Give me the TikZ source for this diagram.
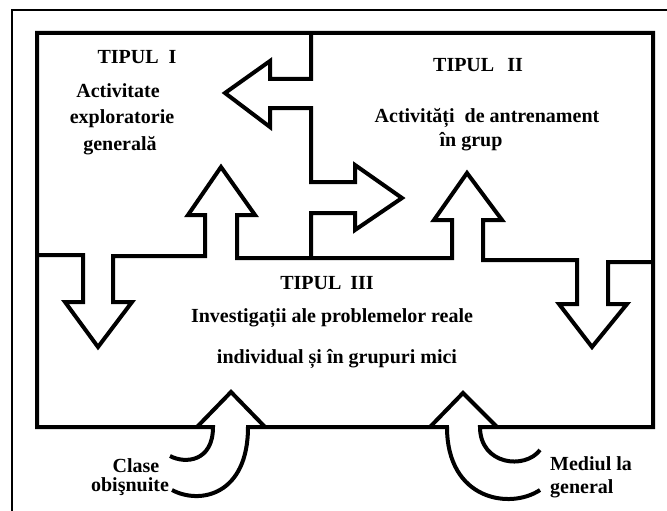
\documentclass[tikz,border=0pt]{standalone}
\usepackage{fontspec}
\setmainfont{Liberation Serif}
\begin{document}
\begin{tikzpicture}[x=1pt,y=-1pt,
  wall/.style={line width=4pt, line join=miter},
  border/.style={line width=2pt},
  lbl/.style={font=\fontsize{20}{24}\selectfont\bfseries, inner sep=0pt, anchor=base},
  lblL/.style={lbl, anchor=base west},
]
\useasboundingbox[fill=white] (0,0) rectangle (667,511);

% outer border (open to the right and bottom)
\draw[border] (12,511) -- (12,10) -- (667,10);

% main frame, with the two curved inflow shafts
\draw[wall] (170,456) .. controls (185,464) and (213,462) .. (213,427)
  -- (37,427) -- (37,33) -- (653,33) -- (653,427) -- (480,427)
  .. controls (480,465) and (525,470) .. (540,450);
\draw[wall] (172,490) .. controls (200,505) and (248,495) .. (248,427)
  -- (447,427) .. controls (447,500) and (510,510) .. (540,490);

% heads of the curved inflow arrows
\draw[wall] (197,427) -- (231,392) -- (265,427);
\draw[wall] (430,427) -- (463,393) -- (497,427);

% divider between types I/II and type III, with its block arrows
\draw[wall] (37,255) -- (83,255) -- (83,302) -- (65,302) -- (98,347)
  -- (132,302) -- (113,302) -- (113,256) -- (205,256) -- (205,215)
  -- (188,215) -- (221,167) -- (255,215) -- (237,215) -- (237,258)
  -- (452,258) -- (452,220) -- (434,220) -- (467,173) -- (502,220)
  -- (483,220) -- (483,260) -- (577,260) -- (577,304) -- (559,304)
  -- (592,347) -- (627,304) -- (608,304) -- (608,262) -- (653,262);

% divider between type I and type II, with its block arrows
\draw[wall] (311,33) -- (311,79) -- (270,79) -- (270,61) -- (225,93)
  -- (270,127) -- (270,108) -- (311,108) -- (311,182) -- (355,182)
  -- (355,165) -- (402,198) -- (355,230) -- (355,213) -- (311,213)
  -- (311,258);

% type I
\node[lbl] (t1)  at (137,64)  {TIPUL\hspace{0.5em}I};
\node[lbl] (t1a) at (118,98)  {Activitate};
\node[lbl] (t1b) at (122,124) {exploratorie};
\node[lbl] (t1c) at (120,150) {generală};

% type II
\node[lbl] (t2)  at (478,71)  {TIPUL\hspace{0.65em}II};
\node[lbl] (t2a) at (487,122) {Activități\hspace{0.5em}de antrenament};
\node[lbl] (t2b) at (471,146) {în grup};

% type III
\node[lbl] (t3)  at (327,289) {TIPUL\hspace{0.45em}III};
\node[lbl] (t3a) at (332,322) {Investigații ale problemelor reale};
\node[lbl] (t3b) at (337,363) {individual și în grupuri mici};

% sources
\node[lbl] (s1a) at (136,472) {Clase};
\node[lbl] (s1b) at (130,491) {obişnuite};
\node[lblL] (s2a) at (550,470) {Mediul la};
\node[lblL] (s2b) at (550,493) {general};
\end{tikzpicture}
\end{document}
